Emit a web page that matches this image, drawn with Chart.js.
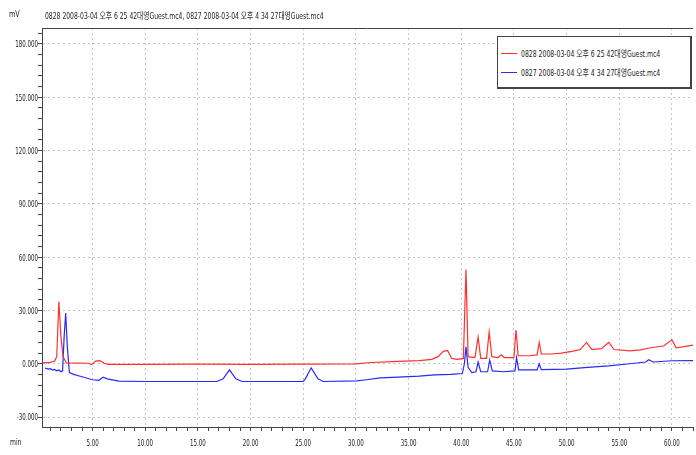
<!DOCTYPE html>
<html>
<head>
<meta charset="utf-8">
<script src="https://cdn.jsdelivr.net/npm/chart.js@4.4.0/dist/chart.umd.min.js"></script>
<style>
  body { margin: 0; background: #fff; }
  #wrap { position: relative; width: 696px; height: 455px; }
  .lbl { position: absolute; font-family: "DejaVu Sans Condensed", "Noto Sans CJK KR", sans-serif; font-size: 9px; color: #222; white-space: nowrap; transform-origin: 0 50%; }
  #legend { position: absolute; left: 497px; top: 36px; width: 195px; height: 53px; border: 1px solid #444; border-right-width: 2px; border-bottom-width: 2px; background: #fff; box-sizing: border-box; }
  .row { position: absolute; left: 3px; white-space: nowrap; }
  .sw { position: absolute; left: 0; width: 16px; height: 1px; }
  .row .lbl { left: 20px; top: -6px; transform: scaleX(0.76); }
</style>
</head>
<body>
<div id="wrap">
  <canvas id="myChart" width="696" height="455"></canvas>
  <div class="lbl" style="left:9px; top:9px; transform:scaleX(0.8);">mV</div>
  <div class="lbl" style="left:45px; top:9px; transform:scaleX(0.75);">0828 2008-03-04 오후 6 25 42대영Guest.mc4, 0827 2008-03-04 오후 4 34 27대영Guest.mc4</div>
  <div class="lbl" style="left:10px; top:437px; transform:scaleX(0.75);">min</div>
  <div id="legend">
    <div class="row" style="top:16px;"><span class="sw" style="background:#ff3030"></span><span class="lbl">0828 2008-03-04 오후 6 25 42대영Guest.mc4</span></div>
    <div class="row" style="top:35px;"><span class="sw" style="background:#2828ff"></span><span class="lbl">0827 2008-03-04 오후 4 34 27대영Guest.mc4</span></div>
  </div>
</div>
<script>
var redTime = [0.3, 1.0, 1.4, 1.6, 1.8, 2.0, 2.2, 2.5, 4.6, 4.9, 5.3, 5.7, 6.1, 6.5, 10, 15, 20, 25, 30, 31.5, 34, 36, 37.2, 37.8, 38.3, 38.7, 39.1, 39.6, 40.2, 40.45, 40.65, 41.3, 41.6, 41.85, 42.4, 42.65, 42.9, 43.5, 43.8, 44.1, 45.0, 45.2, 45.4, 46.5, 47.2, 47.4, 47.6, 48.5, 49.5, 50.5, 51.3, 51.9, 52.4, 53.3, 54.0, 54.5, 56, 57, 58, 59.2, 60.0, 60.4, 61, 62];
var redMv = [0.5, 0.8, 1.5, 4, 35, 15, 4, 0.5, 0.3, -0.5, 1.5, 1.8, 0.3, -0.3, -0.3, -0.2, -0.3, -0.2, -0.1, 0.7, 1.3, 1.8, 2.5, 4, 7, 7.5, 3, 2.5, 3, 53, 4, 3.5, 15, 3, 3, 18, 4, 3.5, 5, 3.5, 3.5, 19, 4.5, 4.5, 5, 12, 5.5, 5.5, 6, 7, 8, 12, 8, 8.5, 12, 8, 7.3, 7.8, 9, 10, 13.5, 9, 9.5, 10.5];

var blueTime = [0.5, 0.8, 1.0, 1.2, 1.4, 1.6, 1.8, 2.0, 2.15, 2.3, 2.45, 2.6, 2.8, 3.2, 4.0, 5.0, 5.6, 6.0, 6.4, 7.5, 10, 15, 16.8, 17.4, 18.0, 18.6, 19.2, 25.0, 25.2, 25.75, 26.4, 26.9, 30.1, 31, 32.3, 34, 36, 37.5, 39, 40.1, 40.3, 40.45, 40.65, 41, 41.4, 41.6, 41.85, 42.5, 42.7, 42.95, 44, 45.1, 45.25, 45.45, 47.2, 47.4, 47.6, 50, 52, 54, 56, 57.5, 57.8, 58.2, 60, 62];
var blueMv = [-2.5, -3, -2.8, -3.6, -3.2, -4, -3.5, -4.5, -4, 15, 28.5, 10, -5, -6, -7.3, -9, -9.3, -7.5, -8.5, -9.8, -10, -10, -10, -8.5, -3.4, -8.5, -10, -10, -8.5, -2.3, -8.5, -10, -9.6, -9, -8, -7.5, -7, -6.3, -6, -5.5, 0, 9.5, -2, -5, -4.5, 1, -4.5, -4.5, 2, -4, -4.5, -4, 3.4, -3.5, -3.5, 0, -3.3, -3, -2, -1.2, 0, 1, 2.3, 1, 1.7, 1.8];

var seriesNames = ["0828 2008-03-04 오후 6 25 42대영Guest.mc4", "0827 2008-03-04 오후 4 34 27대영Guest.mc4"];

function toPoints(xs, ys) {
  return xs.map(function (x, i) { return { x: x, y: ys[i] }; });
}

// narrow tick labels + top frame line
var narrowTicks = {
  id: 'narrowTicks',
  afterDraw: function (chart) {
    var a = chart.chartArea, c = chart.ctx;
    var sx = chart.scales.x, sy = chart.scales.y;
    c.save();
    c.strokeStyle = '#444';
    c.lineWidth = 1;
    c.beginPath();
    c.moveTo(a.left, a.top + 0.5);
    c.lineTo(a.right, a.top + 0.5);
    c.stroke();

    c.fillStyle = '#222';
    c.font = '9px "DejaVu Sans Condensed", sans-serif';
    c.textBaseline = 'middle';
    var k = 0.68;
    sy.ticks.forEach(function (t) {
      if (t.value % 30 !== 0) return;
      var py = sy.getPixelForValue(t.value);
      c.save();
      c.translate(38, py + 1);
      c.scale(k, 1);
      c.textAlign = 'right';
      c.fillText(t.value.toFixed(3), 0, 0);
      c.restore();
    });
    sx.ticks.forEach(function (t) {
      if (t.value % 5 !== 0) return;
      var px = sx.getPixelForValue(t.value);
      c.save();
      c.translate(px, 444);
      c.scale(k, 1);
      c.textAlign = 'center';
      c.fillText(t.value.toFixed(2), 0, 0);
      c.restore();
    });
    c.restore();
  }
};

var ctx = document.getElementById("myChart").getContext('2d');
var myChart = new Chart(ctx, {
  type: 'line',
  data: {
    datasets: [{
      label: seriesNames[0],
      data: toPoints(redTime, redMv),
      borderColor: '#ff3030',
      borderWidth: 1.2,
      pointRadius: 0,
      tension: 0
    }, {
      label: seriesNames[1],
      data: toPoints(blueTime, blueMv),
      borderColor: '#2828ff',
      borderWidth: 1.2,
      pointRadius: 0,
      tension: 0
    }]
  },
  plugins: [narrowTicks],
  options: {
    responsive: false,
    animation: false,
    layout: { padding: { top: 28, right: 0, left: 0, bottom: 0 } },
    plugins: {
      legend: { display: false },
      tooltip: { enabled: false }
    },
    scales: {
      x: {
        type: 'linear',
        min: 0.2,
        max: 62,
        afterFit: function (s) { s.height = 28; },
        border: { display: true, color: '#444', width: 1, dash: [2, 3] },
        grid: {
          color: function (c) { return c.tick && c.tick.value % 5 === 0 ? '#c4c4c4' : 'rgba(0,0,0,0)'; },
          tickColor: '#444',
          tickLength: 4
        },
        ticks: {
          stepSize: 1,
          includeBounds: false,
          autoSkip: false,
          maxRotation: 0,
          color: 'rgba(0,0,0,0)',
          font: { size: 9 },
          callback: function (v) { return v % 5 === 0 ? v.toFixed(2) : ''; }
        }
      },
      y: {
        min: -35.6,
        max: 189,
        afterFit: function (s) { s.width = 42; },
        border: { display: true, color: '#444', width: 1, dash: [2, 3] },
        grid: {
          color: function (c) { return c.tick && c.tick.value % 30 === 0 ? '#c4c4c4' : 'rgba(0,0,0,0)'; },
          tickColor: '#444',
          tickLength: 4
        },
        ticks: {
          stepSize: 6,
          includeBounds: false,
          autoSkip: false,
          color: 'rgba(0,0,0,0)',
          font: { size: 9 },
          callback: function (v) { return v % 30 === 0 ? v.toFixed(3) : ''; }
        }
      }
    }
  }
});
</script>
</body>
</html>
